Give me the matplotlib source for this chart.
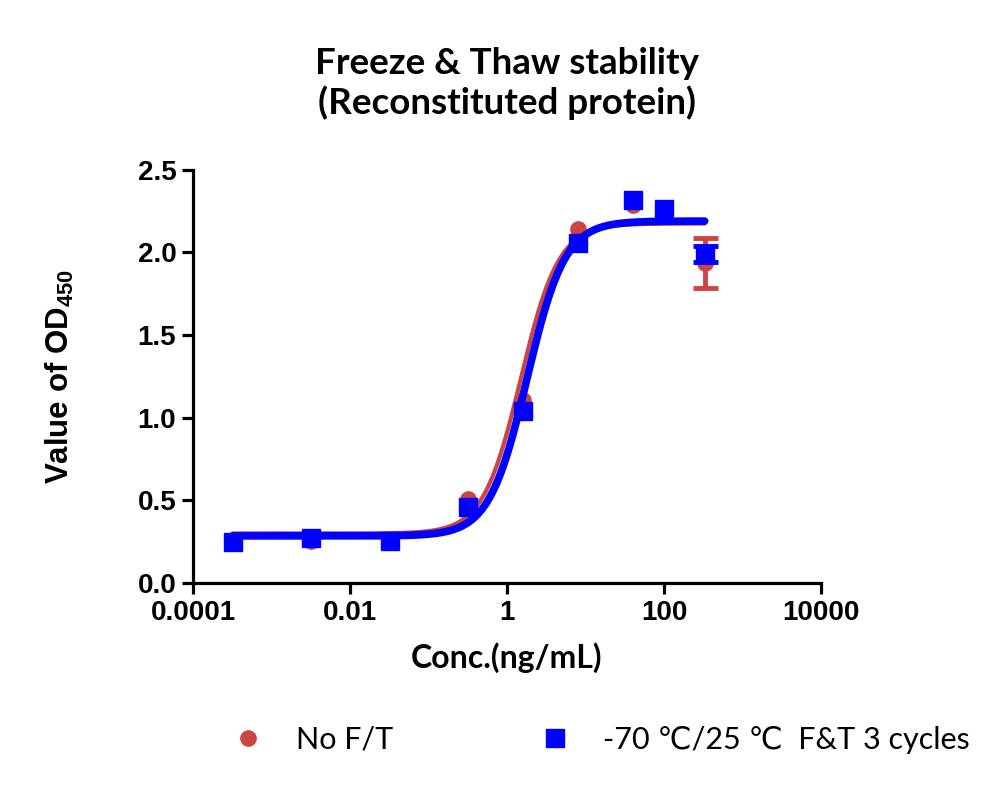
import numpy as np
import matplotlib
matplotlib.use("Agg")
import matplotlib.pyplot as plt  # noqa: E402

plt.rcParams["mathtext.fontset"] = "custom"
plt.rcParams["mathtext.bf"] = "Liberation Sans:bold"

# concentrations (ng/mL) and OD450 readings
conc = [0.00032, 0.0032, 0.032, 0.32, 1.6, 8, 40, 100, 330]
od_noft = [0.25, 0.255, 0.25, 0.51, 1.11, 2.14, 2.29, 2.26, 1.935]
err_noft = [0, 0, 0, 0, 0, 0, 0, 0, 0.15]
od_ft = [0.25, 0.27, 0.256, 0.46, 1.04, 2.06, 2.315, 2.265, 1.99]
err_ft = [0, 0, 0, 0, 0, 0, 0, 0, 0.05]

# 4PL fit parameters (bottom, top, EC50, hill) estimated from the drawn curves
fit_noft = [0.30, 2.175, 1.50, 1.8]
fit_ft = [0.285, 2.19, 1.80, 1.8]

labels = ["No F/T", "-70 \u2103/25 \u2103  F&T 3 cycles"]
RED = "#cc4444"
BLUE = "#0000ff"


def four_pl(x, p):
    bottom, top, ec50, hill = p
    return bottom + (top - bottom) / (1 + (ec50 / x) ** hill)


fig = plt.figure(figsize=(10, 7.87), dpi=100)
ax = fig.add_axes([0.193, 0.2592, 0.628, 0.525])

xs = np.logspace(np.log10(conc[0]), np.log10(conc[-1]), 400)
series = [
    (od_noft, err_noft, fit_noft, RED, "o", 11, 3),
    (od_ft, err_ft, fit_ft, BLUE, "s", 12.5, 5.5),
]
handles = []
for od, err, fit, color, marker, ms, lw in series:
    h, = ax.plot(conc, od, marker, color=color, ms=ms, ls="none")
    handles.append(h)
    idx = [i for i, e in enumerate(err) if e > 0]
    ax.errorbar([conc[i] for i in idx], [od[i] for i in idx],
                yerr=[err[i] for i in idx], fmt="none", ecolor=color,
                elinewidth=3.5, capsize=9, capthick=3.5)
    ax.plot(xs, four_pl(xs, fit), color=color, lw=lw, solid_capstyle="round")

ax.set_xscale("log")
ax.set_xlim(1e-4, 1e4)
ax.set_ylim(0, 2.5)
ax.set_xticks([1e-4, 1e-2, 1, 1e2, 1e4])
ax.set_xticklabels(["0.0001", "0.01", "1", "100", "10000"])
ax.xaxis.set_minor_locator(matplotlib.ticker.NullLocator())
ax.set_yticks([0, 0.5, 1.0, 1.5, 2.0, 2.5])
ax.set_yticklabels(["0.0", "0.5", "1.0", "1.5", "2.0", "2.5"])

for s in ["top", "right"]:
    ax.spines[s].set_visible(False)
for s in ["left", "bottom"]:
    ax.spines[s].set_linewidth(2.3)
ax.tick_params(width=2.3, length=8, direction="out", pad=4)
for t in ax.get_xticklabels() + ax.get_yticklabels():
    t.set_fontfamily("Liberation Sans")
    t.set_fontweight("bold")
    t.set_fontsize(20)

ax.set_xlabel("Conc.(ng/mL)", fontfamily="Lato", fontweight="bold",
              fontsize=23, labelpad=12)
ax.set_ylabel(r"Value of OD$_\mathbf{450}$", fontfamily="Liberation Sans",
              fontweight="bold", fontsize=22.5, labelpad=44)
ax.set_title("Freeze & Thaw stability\n(Reconstituted protein)",
             fontfamily="Lato", fontweight="bold", fontsize=26.5,
             linespacing=1.2, pad=40)

fig.legend(handles, labels, loc="center left", bbox_to_anchor=(0.19, 0.06),
           ncol=2, frameon=False, columnspacing=4.3, handletextpad=0.57,
           prop={"family": ["Lato", "DejaVu Sans"], "size": 22})

fig.savefig("out.png", dpi=100)
